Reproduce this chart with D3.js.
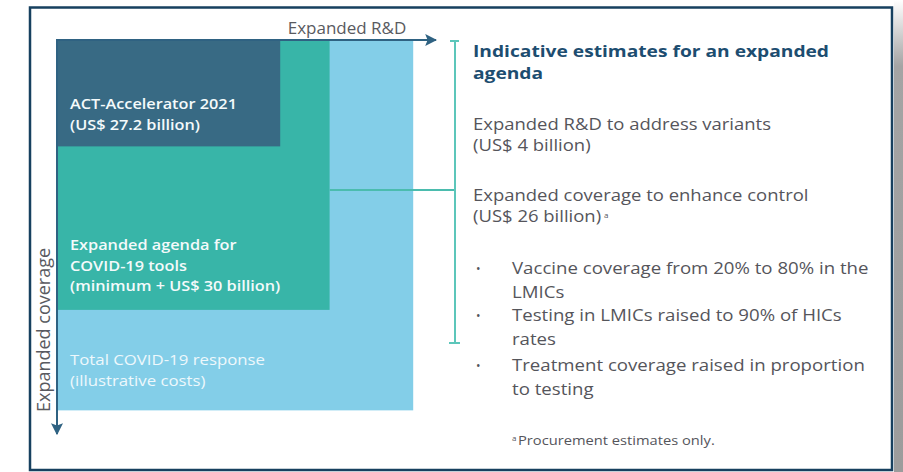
<!DOCTYPE html>
<meta charset="utf-8">
<script src="https://cdn.jsdelivr.net/npm/d3@7"></script>
<style>
  body { margin: 0; background: #fff; }
  svg text { font-family: "Open Sans", "Noto Sans", sans-serif; }
</style>
<div id="my_dataviz"></div>
<script>

// nested boxes: relative reach along R&D (x) and coverage (y)
var boxNames = ["ACT-Accelerator 2021", "Expanded agenda for COVID-19 tools", "Total COVID-19 response"];
var boxLabels = [
  ["ACT-Accelerator 2021", "(US$ 27.2 billion)"],
  ["Expanded agenda for", "COVID-19 tools", "(minimum + US$ 30 billion)"],
  ["Total COVID-19 response", "(illustrative costs)"]
];
var rdReach = [0.59, 0.72, 0.94];
var coverageReach = [0.27, 0.685, 0.94];
var boxColors = ["#386a84", "#38b5a8", "#83cee8"];

var titleLines = ["Indicative estimates for an expanded", "agenda"];
var rdLines = ["Expanded R&D to address variants", "(US$ 4 billion)"];
var coverageLines = ["Expanded coverage to enhance control", "(US$ 26 billion)"];
var bulletItems = [
  ["Vaccine coverage from 20% to 80% in the", "LMICs"],
  ["Testing in LMICs raised to 90% of HICs", "rates"],
  ["Treatment coverage raised in proportion", "to testing"]
];
var footnote = "Procurement estimates only.";

var W = 903, H = 472;

var svg = d3.select("#my_dataviz")
  .append("svg")
    .attr("width", W)
    .attr("height", H);

var defs = svg.append("defs");
var grad = defs.append("linearGradient")
    .attr("id", "shade").attr("x1", 0).attr("y1", 0).attr("x2", 0).attr("y2", 1);
grad.append("stop").attr("offset", "0%").attr("stop-color", "#ffffff");
grad.append("stop").attr("offset", "14%").attr("stop-color", "#a4a4a4");
grad.append("stop").attr("offset", "100%").attr("stop-color", "#9c9c9c");

var mk = defs.append("marker")
    .attr("id", "arrowHead")
    .attr("viewBox", "0 0 10 10")
    .attr("refX", 9).attr("refY", 5)
    .attr("markerWidth", 6).attr("markerHeight", 6)
    .attr("markerUnits", "strokeWidth")
    .attr("orient", "auto");
mk.append("path").attr("d", "M0,0 L10,5 L0,10 L2,5 Z").attr("fill", "#2f6282");

// page shadow at right edge
svg.append("rect")
  .attr("x", 894).attr("y", 0).attr("width", 9).attr("height", 472)
  .attr("fill", "url(#shade)");

// frame
svg.append("rect")
  .attr("x", 30).attr("y", 7.5).attr("width", 862).attr("height", 462.5)
  .attr("fill", "#fff")
  .attr("stroke", "#17405f").attr("stroke-width", 2.5);

// scales
var x = d3.scaleLinear().domain([0, 1]).range([56, 436]);
var y = d3.scaleLinear().domain([0, 1]).range([40, 434]);

var order = d3.range(boxNames.length).reverse();

svg.append("g").selectAll("rect")
  .data(order)
  .join("rect")
    .attr("x", x(0))
    .attr("y", y(0))
    .attr("width", function(i) { return x(rdReach[i]) - x(0); })
    .attr("height", function(i) { return y(coverageReach[i]) - y(0); })
    .attr("fill", function(i) { return boxColors[i]; });

// one text element per line, the original type is a bit wide so stretch it
function lines(px, py, arr, gap, size, sx, color, weight) {
  var g = svg.append("g");
  arr.forEach(function(l, k) {
    g.append("text")
      .attr("transform", "translate(" + px + "," + (py + k * gap) + ") scale(" + sx + ",1)")
      .attr("fill", color)
      .style("font-size", size + "px")
      .style("font-weight", weight || 400)
      .text(l);
  });
  return g;
}

// box labels
var labelBase = [109, 250, 365];
var labelGap = [21, 20.5, 20.5];
boxLabels.forEach(function(arr, i) {
  if (i == 2) lines(70, labelBase[i], arr, labelGap[i], 15, 1.12, "#eef8fc", 400);
  else lines(70, labelBase[i], arr, labelGap[i], 15, 1.085, "#f4fafb", 600);
});

// connector from expanded agenda to bracket
var bx = 455;
svg.append("line")
  .attr("x1", x(rdReach[1])).attr("x2", bx)
  .attr("y1", 190).attr("y2", 190)
  .attr("stroke", "#4bbcae").attr("stroke-width", 2);

// bracket
svg.append("line").attr("x1", bx).attr("x2", bx).attr("y1", 40).attr("y2", 343)
  .attr("stroke", "#5cc6ba").attr("stroke-width", 2);
svg.append("line").attr("x1", bx - 5).attr("x2", bx + 4).attr("y1", 41).attr("y2", 41)
  .attr("stroke", "#5cc6ba").attr("stroke-width", 2);
svg.append("line").attr("x1", bx - 6).attr("x2", bx + 5).attr("y1", 343).attr("y2", 343)
  .attr("stroke", "#5cc6ba").attr("stroke-width", 2);

// axis arrows
svg.append("line")
  .attr("x1", x(0)).attr("x2", x(1))
  .attr("y1", y(0)).attr("y2", y(0))
  .attr("stroke", "#2f6282").attr("stroke-width", 2)
  .attr("marker-end", "url(#arrowHead)");
svg.append("line")
  .attr("x1", x(0) + 1).attr("x2", x(0) + 1)
  .attr("y1", y(0)).attr("y2", y(1))
  .attr("stroke", "#2f6282").attr("stroke-width", 2)
  .attr("marker-end", "url(#arrowHead)");

svg.append("text")
  .attr("x", 347).attr("y", 34)
  .attr("text-anchor", "middle")
  .attr("fill", "#595a60")
  .style("font-size", "17px")
  .text("Expanded R&D");

svg.append("text")
  .attr("transform", "translate(50,330) rotate(-90)")
  .attr("text-anchor", "middle")
  .attr("fill", "#595a60")
  .style("font-size", "18px")
  .text("Expanded coverage");

// right-hand notes
var tx = 473;
var grey = "#55555b";
lines(tx, 57, titleLines, 22, 16, 1.2, "#1d4d70", 700);
lines(tx, 130, rdLines, 21, 15.4, 1.2, grey);
lines(tx, 201, coverageLines, 21, 15.4, 1.2, grey);
svg.append("text")
  .attr("x", 604).attr("y", 218)
  .attr("fill", grey)
  .style("font-size", "8px")
  .text("a");

var bulletBase = [274, 321, 371];
bulletItems.forEach(function(arr, i) {
  svg.append("text")
    .attr("x", 476).attr("y", bulletBase[i] - 1)
    .attr("fill", grey)
    .style("font-size", "12px")
    .text("•");
  lines(512, bulletBase[i], arr, 24, 15.8, 1.18, grey);
});

svg.append("text")
  .attr("x", 512).attr("y", 441)
  .attr("fill", grey)
  .style("font-size", "8px")
  .text("a");
lines(518, 445, [footnote], 0, 13, 1.13, grey);

</script>
